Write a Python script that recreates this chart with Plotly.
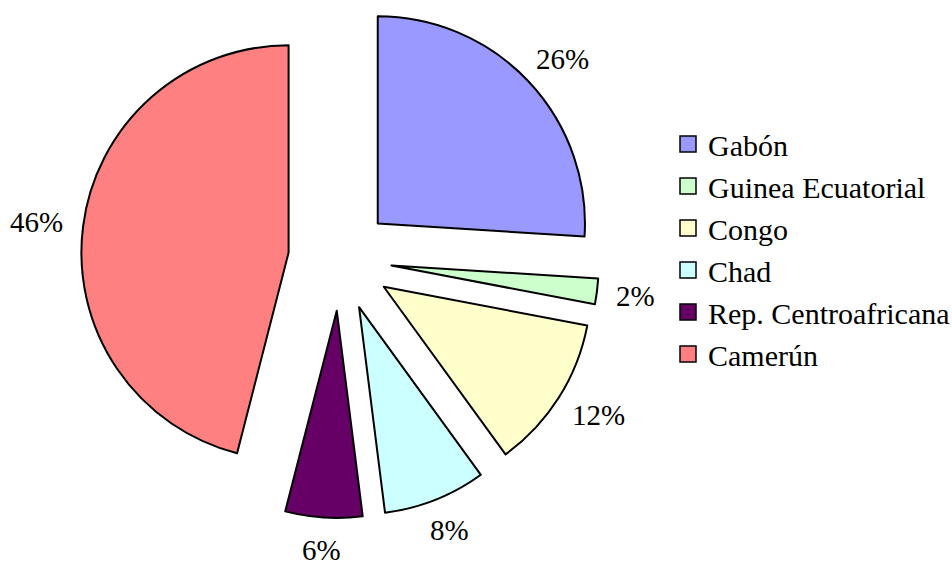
import math
import plotly.graph_objects as go

labels = ["Gabón", "Guinea Ecuatorial", "Congo", "Chad", "Rep. Centroafricana", "Camerún"]
values = [26, 2, 12, 8, 6, 46]
colors = ["#9999FF", "#CCFFCC", "#FFFFCC", "#CCFFFF", "#660066", "#FF8080"]

W, H = 952, 567
mb = 49
ph = H - mb
cx = 340
half = ph / 2
pull = 0.25
gap = 20          # px between arc and label box
label_size = 29

fig = go.Figure(go.Pie(
    labels=labels,
    values=values,
    sort=False,
    direction="clockwise",
    rotation=0,
    pull=[pull] * len(values),
    marker=dict(colors=colors, line=dict(color="black", width=2)),
    textinfo="none",
    showlegend=False,
    domain=dict(x=[(cx - half) / W, (cx + half) / W], y=[0, 1]),
    hoverinfo="label+percent",
))

# legend entries (square swatches)
for lab, col in zip(labels, colors):
    fig.add_trace(go.Scatter(
        x=[None], y=[None], mode="markers", name=lab,
        marker=dict(symbol="square", size=16, color=col, line=dict(color="black", width=1.5)),
        hoverinfo="skip",
    ))

# percentage labels placed just outside each (pulled) slice, derived from the values
total = sum(values)
r = half / (1 + pull)
cy = half
cum = 0.0
annotations = []
for v in values:
    mid = (cum + v / 2) / total * 2 * math.pi
    cum += v
    ux, uy = math.sin(mid), -math.cos(mid)
    txt = f"{round(100 * v / total)}%"
    hw = 0.5 * label_size * (0.5 * (len(txt) - 1) + 0.833)
    hh = 13
    px = cx + ux * (pull * r + r + gap) + hw * ux
    py = cy + uy * (pull * r + r + gap) + hh * uy
    annotations.append(dict(
        x=px / W, y=1 - py / ph, xref="paper", yref="paper",
        text=txt, showarrow=False,
        xanchor="center", yanchor="middle",
        font=dict(family="Liberation Serif", size=label_size, color="black"),
    ))

fig.update_layout(
    width=W, height=H,
    margin=dict(l=0, r=0, t=0, b=mb, autoexpand=False),
    paper_bgcolor="white",
    plot_bgcolor="white",
    font=dict(family="Liberation Serif", color="black"),
    xaxis=dict(visible=False),
    yaxis=dict(visible=False),
    annotations=annotations,
    legend=dict(
        x=668 / W, xanchor="left",
        y=1 - 249 / ph, yanchor="middle",
        font=dict(family="Liberation Serif", size=30, color="black"),
        bgcolor="rgba(0,0,0,0)",
        itemsizing="trace",
    ),
    showlegend=True,
)

fig.write_html("out.html", config={"displayModeBar": False},
               post_script="document.body.style.margin='0';")
